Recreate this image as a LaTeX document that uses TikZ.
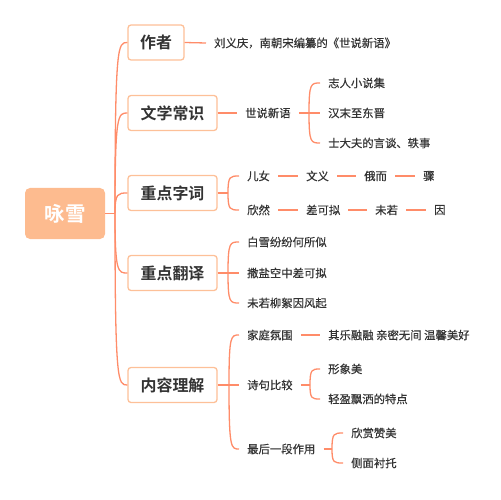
\documentclass[tikz,border=0pt]{standalone}
\usepackage{fontspec}
\setmainfont{Noto Sans CJK SC}[BoldFont={Noto Sans CJK SC Bold}]
\newfontfamily\medfont{Noto Sans CJK SC}[BoldFont={Noto Sans CJK SC}, BoldFeatures={FakeBold=0.5}]
\definecolor{ln}{RGB}{255,140,105}
\definecolor{bx}{RGB}{253,192,152}
\definecolor{rootfill}{RGB}{253,187,143}
\definecolor{tx}{RGB}{51,51,51}
\tikzset{
  conn/.style={draw=ln, line width=1.3bp},
  rootbox/.style={fill=rootfill, rounded corners=5bp, minimum width=80bp, minimum height=51bp, inner sep=0pt, text=white, font=\fontsize{20.5}{24}\selectfont\bfseries},
  l1box/.style={draw=bx, fill=white, line width=1.3bp, rounded corners=3bp, minimum height=35bp, inner sep=0pt, text=tx, font=\fontsize{16}{19}\selectfont\bfseries},
  txt/.style={anchor=west, inner xsep=8bp, inner ysep=2bp, text=tx, font=\medfont\bfseries\fontsize{11.4}{13}\selectfont},
}
\begin{document}
\begin{tikzpicture}[x=1bp, y=-1bp]
\useasboundingbox (0,0) rectangle (501,500);
% root
\node[rootbox] (root) at (65,213.5) {咏雪};
% level 1
\node[l1box, minimum width=56bp] (zz) at (156,42.5) {作者};
\node[l1box, minimum width=89bp] (wx) at (172.5,113) {文学常识};
\node[l1box, minimum width=89bp] (zc) at (172.5,193) {重点字词};
\node[l1box, minimum width=89bp] (fy) at (172.5,273) {重点翻译};
\node[l1box, minimum width=89bp] (nr) at (172.5,385) {内容理解};
\coordinate (J0) at (115,213.5);
\draw[conn] (root.east) -- (J0);
\foreach \b/\y in {zz/42.5, wx/113, zc/193, fy/273, nr/385}
  \draw[conn] (J0) .. controls (115,\y) and (118,\y) .. (\b.west);
% 作者
\node[txt] (zz1) at (206,43) {刘义庆，南朝宋编纂的《世说新语》};
\draw[conn] (zz.east) -- (zz1.west);
% 文学常识
\node[txt] (wx1) at (237,113) {世说新语};
\draw[conn] (wx.east) -- (wx1.west);
\coordinate (J1) at (309,113);
\draw[conn] (wx1.east) -- (J1);
\node[txt] (wx1a) at (320,83) {志人小说集};
\node[txt] (wx1b) at (320,113) {汉末至东晋};
\node[txt] (wx1c) at (320,143) {士大夫的言谈、轶事};
\draw[conn] (J1) .. controls (309,83) and (311,83) .. (wx1a.west);
\draw[conn] (J1) -- (wx1b.west);
\draw[conn] (J1) .. controls (309,143) and (311,143) .. (wx1c.west);
% 重点字词
\coordinate (J2) at (228,193);
\draw[conn] (zc.east) -- (J2);
\node[txt] (r1a) at (239,176) {儿女};
\node[txt] (r1b) at (298,176) {文义};
\node[txt] (r1c) at (356,176) {俄而};
\node[txt] (r1d) at (415,176) {骤};
\node[txt] (r2a) at (239,210) {欣然};
\node[txt] (r2b) at (298,210) {差可拟};
\node[txt] (r2c) at (367,210) {未若};
\node[txt] (r2d) at (426,210) {因};
\draw[conn] (J2) .. controls (228,176) and (230,176) .. (r1a.west);
\draw[conn] (J2) .. controls (228,210) and (230,210) .. (r2a.west);
\draw[conn] (r1a) -- (r1b);
\draw[conn] (r1b) -- (r1c);
\draw[conn] (r1c) -- (r1d);
\draw[conn] (r2a) -- (r2b);
\draw[conn] (r2b) -- (r2c);
\draw[conn] (r2c) -- (r2d);
% 重点翻译
\coordinate (J3) at (228,273);
\draw[conn] (fy.east) -- (J3);
\node[txt] (f1) at (239,242) {白雪纷纷何所似};
\node[txt] (f2) at (239,273) {撒盐空中差可拟};
\node[txt] (f3) at (239,303) {未若柳絮因风起};
\draw[conn] (J3) .. controls (228,242) and (230,242) .. (f1.west);
\draw[conn] (J3) -- (f2.west);
\draw[conn] (J3) .. controls (228,303) and (230,303) .. (f3.west);
% 内容理解
\coordinate (J4) at (229,385);
\draw[conn] (nr.east) -- (J4);
\node[txt] (n1) at (239,335) {家庭氛围};
\node[txt] (n2) at (239,385) {诗句比较};
\node[txt] (n3) at (239,449) {最后一段作用};
\draw[conn] (J4) .. controls (229,335) and (231,335) .. (n1.west);
\draw[conn] (J4) -- (n2.west);
\draw[conn] (J4) .. controls (229,449) and (231,449) .. (n3.west);
\node[txt] (n1a) at (320,335) {其乐融融 亲密无间 温馨美好};
\draw[conn] (n1) -- (n1a);
\coordinate (J5) at (310,385);
\draw[conn] (n2.east) -- (J5);
\node[txt] (n2a) at (320,369) {形象美};
\node[txt] (n2b) at (320,399) {轻盈飘洒的特点};
\draw[conn] (J5) .. controls (310,369) and (312,369) .. (n2a.west);
\draw[conn] (J5) .. controls (310,399) and (312,399) .. (n2b.west);
\coordinate (J6) at (332,449);
\draw[conn] (n3.east) -- (J6);
\node[txt] (n3a) at (343,433) {欣赏赞美};
\node[txt] (n3b) at (343,463) {侧面衬托};
\draw[conn] (J6) .. controls (332,433) and (334,433) .. (n3a.west);
\draw[conn] (J6) .. controls (332,463) and (334,463) .. (n3b.west);
\end{tikzpicture}
\end{document}
